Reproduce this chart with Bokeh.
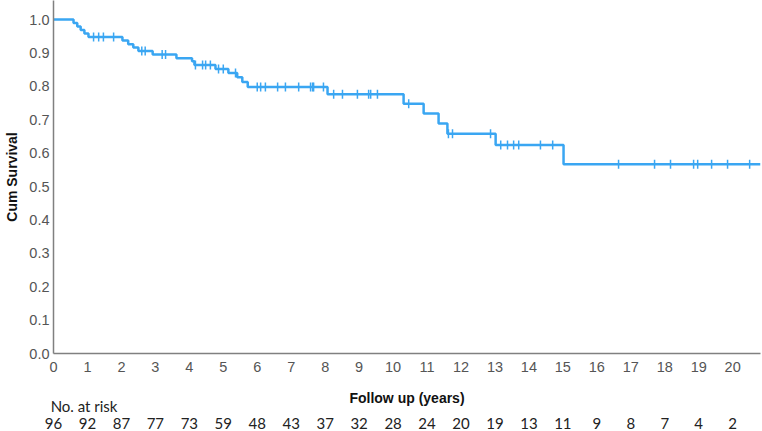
import numpy as np
from bokeh.plotting import figure
from bokeh.models import Range1d, LinearAxis, FixedTicker, PrintfTickFormatter
from bokeh.embed import file_html
from bokeh.resources import INLINE

# Kaplan-Meier estimate: event times (years) and survival just after each event
event_times = [0.59, 0.70, 0.80, 0.91, 1.03, 2.03, 2.20, 2.35, 2.50, 2.92, 3.62,
               4.08, 4.15, 4.77, 5.15, 5.41, 5.56, 5.72, 8.07, 10.31, 10.90,
               11.34, 11.60, 13.02, 15.02]
survival = [0.990, 0.979, 0.969, 0.958, 0.948, 0.937, 0.926, 0.916, 0.906, 0.895,
            0.884, 0.875, 0.864, 0.852, 0.840, 0.827, 0.813, 0.798, 0.776, 0.748,
            0.719, 0.689, 0.658, 0.624, 0.567]
last_follow_up = 20.82

# Censored observations (years)
censor_times = [1.18, 1.33, 1.47, 1.77, 2.60, 2.70, 3.20, 3.30, 4.18, 4.39, 4.48,
                4.62, 4.86, 5.00, 5.36, 6.00, 6.10, 6.24, 6.60, 6.83, 7.22, 7.57,
                7.63, 7.66, 7.95, 8.25, 8.51, 8.95, 9.28, 9.34, 9.54, 10.46, 11.63,
                11.75, 12.87, 13.17, 13.37, 13.55, 13.70, 14.34, 14.70, 16.64,
                17.70, 18.17, 18.85, 18.97, 19.38, 19.85, 20.50]

# Number at risk at each whole year
risk_years = list(range(21))
at_risk = [96, 92, 87, 77, 73, 59, 48, 43, 37, 32, 28, 24, 20, 19, 13, 11, 9, 8, 7, 4, 2]

curve_color = "#3AA6F2"
axis_gray = "#808080"
label_gray = "#555555"

step_x = [0.0] + event_times + [last_follow_up]
step_y = [1.0] + survival + [survival[-1]]

# survival level at each censoring time
idx = np.searchsorted(np.array(event_times), np.array(censor_times), side="right")
levels = np.array([1.0] + survival)
censor_y = levels[idx]

p = figure(width=762, height=431, output_backend="svg", toolbar_location=None,
           x_range=Range1d(0, 20.82), y_range=Range1d(0, 1.057),
           min_border_left=53, min_border_right=2, min_border_top=0,
           min_border_bottom=77, x_axis_type=None)
p.outline_line_color = None
p.xgrid.visible = False
p.ygrid.visible = False

p.step(step_x, step_y, mode="after", line_color=curve_color, line_width=2.5)
p.scatter(censor_times, censor_y, marker="dash", angle=np.pi / 2, size=9,
          line_color=curve_color, line_width=1.5, fill_color=curve_color)


def plain_axis(axis, standoff):
    axis.major_label_standoff = standoff
    axis.major_tick_out = 0
    axis.major_tick_in = 0
    axis.minor_tick_line_color = None


# y axis
ya = p.yaxis[0]
ya.ticker = FixedTicker(ticks=[i / 10 for i in range(11)])
ya.formatter = PrintfTickFormatter(format="%.1f")
ya.axis_label = "Cum Survival"
ya.axis_label_text_font = "Liberation Sans"
ya.axis_label_text_font_style = "bold"
ya.axis_label_text_font_size = "14px"
ya.axis_label_text_color = "#111111"
ya.axis_label_standoff = 6
ya.major_label_text_font = "Liberation Sans"
ya.major_label_text_font_size = "14.5px"
ya.major_label_text_color = label_gray
plain_axis(ya, 4)
ya.axis_line_color = axis_gray
ya.axis_line_width = 1.5

# x axis with years
xa = LinearAxis(ticker=FixedTicker(ticks=risk_years))
xa.axis_label = "Follow up (years)"
xa.axis_label_text_font = "Liberation Sans"
xa.axis_label_text_font_style = "bold"
xa.axis_label_text_font_size = "14px"
xa.axis_label_text_color = "#111111"
xa.axis_label_standoff = 15
xa.major_label_text_font = "Liberation Sans"
xa.major_label_text_font_size = "14.5px"
xa.major_label_text_color = label_gray
plain_axis(xa, 8)
xa.axis_line_color = axis_gray
xa.axis_line_width = 1.5
p.add_layout(xa, "below")

# "No. at risk" heading, placed as a single tick label under the first years
ha = LinearAxis(ticker=FixedTicker(ticks=[0.9]))
ha.major_label_overrides = {0.9: "No. at risk"}
ha.major_label_text_font = "Lato"
ha.major_label_text_font_size = "15px"
ha.major_label_text_color = "#222222"
plain_axis(ha, -12)
ha.axis_line_color = None
p.add_layout(ha, "below")

# number-at-risk row as a line-less axis
ra = LinearAxis(ticker=FixedTicker(ticks=risk_years))
ra.major_label_overrides = {y: str(n) for y, n in zip(risk_years, at_risk)}
ra.major_label_text_font = "Lato"
ra.major_label_text_font_size = "15px"
ra.major_label_text_color = "#222222"
plain_axis(ra, 0)
ra.axis_line_color = None
p.add_layout(ra, "below")

open("out.html", "w").write(file_html(p, INLINE))
